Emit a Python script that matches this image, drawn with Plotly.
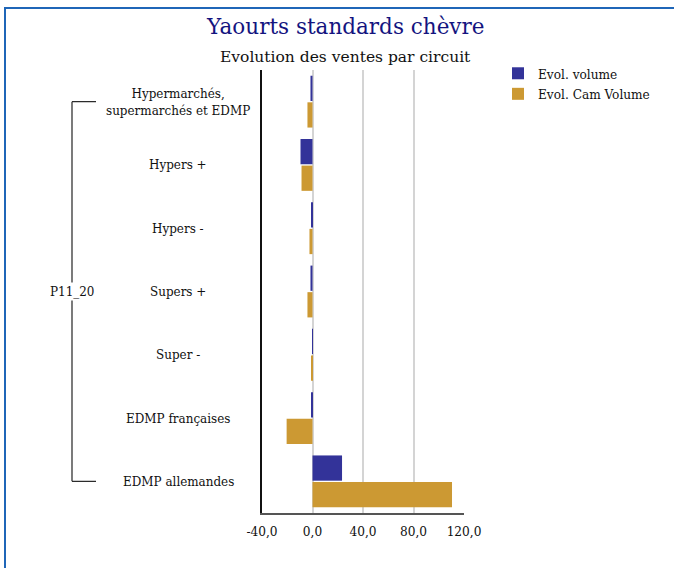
import plotly.graph_objects as go

categories = ["Hypermarchés,<br>supermarchés et EDMP", "Hypers +", "Hypers -",
              "Supers +", "Super -", "EDMP françaises", "EDMP allemandes"]
group_label = "P11_20"
evol_volume = [-1.6, -9.5, -0.5, -1.6, -0.3, -0.8, 23.4]
evol_cam_volume = [-4.0, -8.7, -2.4, -4.0, -1.0, -20.5, 110.5]
series_names = ["Evol. volume", "Evol. Cam Volume"]
tick_vals = [-40, 0, 40, 80, 120]
tick_labels = ["-40,0", "0,0", "40,0", "80,0", "120,0"]

W, H = 674, 568
L, R, T, B = 262, 210, 70, 55
pw = W - L - R
ph = H - T - B

def px_x(p):
    return (p - L) / pw

def px_y(p):
    return (H - B - p) / ph

FONT = "DejaVu Serif Condensed"
TFONT = "DejaVu Serif"

fig = go.Figure()
fig.add_trace(go.Bar(y=list(range(len(categories))), x=evol_volume, orientation="h",
                     name=series_names[0], marker=dict(color="#333399", line_width=0)))
fig.add_trace(go.Bar(y=list(range(len(categories))), x=evol_cam_volume, orientation="h",
                     name=series_names[1], marker=dict(color="#CC9933", line_width=0)))

annotations = []
for i, c in enumerate(categories):
    annotations.append(dict(x=px_x(178), xref="paper", y=i, yref="y", text=c,
                            showarrow=False, xanchor="center", yanchor="middle",
                            font=dict(family=FONT, size=13.3, color="#111111")))
annotations.append(dict(x=px_x(72), xref="paper", y=(len(categories) - 1) / 2, yref="y",
                        text=group_label, showarrow=False, xanchor="center", yanchor="middle",
                        bgcolor="white", font=dict(family=FONT, size=13.3, color="#111111")))
annotations.append(dict(x=px_x(345), xref="paper", y=px_y(27), yref="paper",
                        text="Yaourts standards chèvre", showarrow=False,
                        xanchor="center", yanchor="middle",
                        font=dict(family=TFONT, size=21.5, color="#14147f")))
annotations.append(dict(x=px_x(345), xref="paper", y=px_y(57), yref="paper",
                        text="Evolution des ventes par circuit", showarrow=False,
                        xanchor="center", yanchor="middle",
                        font=dict(family=TFONT, size=15.5, color="#111111")))

shapes = [
    # bracket
    dict(type="line", xref="paper", yref="y", x0=px_x(72), x1=px_x(72), y0=0, y1=len(categories) - 1,
         line=dict(color="#222222", width=1.2)),
    dict(type="line", xref="paper", yref="y", x0=px_x(72), x1=px_x(96), y0=0, y1=0,
         line=dict(color="#222222", width=1.2)),
    dict(type="line", xref="paper", yref="y", x0=px_x(72), x1=px_x(96),
         y0=len(categories) - 1, y1=len(categories) - 1,
         line=dict(color="#222222", width=1.2)),
    # outer border
    dict(type="rect", xref="paper", yref="paper", x0=px_x(5), x1=px_x(700),
         y0=px_y(8), y1=px_y(600), line=dict(color="#1f66b8", width=2), layer="below"),
]

fig.update_layout(
    width=W, height=H,
    margin=dict(l=L, r=R, t=T, b=B),
    paper_bgcolor="white", plot_bgcolor="white",
    barmode="group", bargap=0.16, bargroupgap=0.05,
    font=dict(family=FONT, size=13, color="#111111"),
    xaxis=dict(range=[-40, 120], tickvals=tick_vals, ticktext=tick_labels,
               showgrid=True, gridcolor="#d4d4d4", gridwidth=1.5,
               zeroline=False, showline=True, linecolor="#555555", linewidth=1.5,
               ticks="", ticklabelstandoff=5,
               tickfont=dict(family=FONT, size=13.5, color="#111111")),
    yaxis=dict(autorange="reversed", showticklabels=False, showgrid=False, zeroline=False,
               showline=True, linecolor="#111111", linewidth=1.5, ticks=""),
    legend=dict(x=px_x(498), y=px_y(58), xanchor="left", yanchor="top",
                bgcolor="rgba(0,0,0,0)", font=dict(family=FONT, size=13.5, color="#111111"),
                traceorder="normal", itemwidth=30, tracegroupgap=0),
    annotations=annotations,
    shapes=shapes,
)

fig.write_html("out.html", config={"displayModeBar": False},
               post_script="document.body.style.margin='0';")
